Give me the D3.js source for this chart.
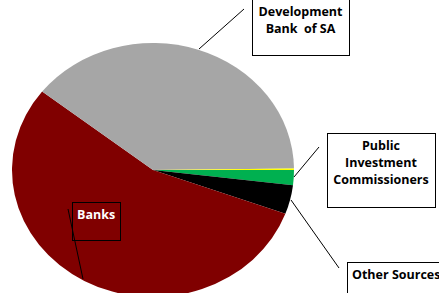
<!DOCTYPE html>
<html>
<head>
<meta charset="utf-8">
<script src="https://cdn.jsdelivr.net/npm/d3@7"></script>
<style>
  body { margin: 0; background: #fff; }
  text { font-family: "Open Sans", Lato, sans-serif; font-weight: bold; }
</style>
</head>
<body>
<svg id="pie"></svg>
<script>
var width = 439;
var height = 293;

// slice order clockwise from 3 o'clock
var sources = ["Public Investment Commissioners", "Other Sources", "Banks", "Development Bank of SA", "Other"];
var shares = [1.9, 3.7, 55.0, 39.2, 0.2];
var colors = ["#00b050", "#000000", "#800000", "#a6a6a6", "#ffff00"];

var cx = 153, cy = 170;
var rx = 141, ry = 127;

var svg = d3.select("#pie").attr("width", width).attr("height", height);

var data = sources.map(function (s, i) { return {name: s, value: shares[i], color: colors[i]}; });

var pie = d3.pie()
    .sort(null)
    .value(function (d) { return d.value; })
    .startAngle(Math.PI / 2)
    .endAngle(Math.PI / 2 + 2 * Math.PI);

var arc = d3.arc().innerRadius(0).outerRadius(rx);

var pieGroup = svg.append("g")
    .attr("transform", "translate(" + cx + "," + cy + ") scale(1," + (ry / rx) + ")");

pieGroup.selectAll("path")
    .data(pie(data))
    .enter()
    .append("path")
    .attr("d", arc)
    .attr("fill", function (d) { return d.data.color; });

// labels: box, text lines, leader line
var labels = [
    {lines: ["Development", "Bank  of SA"], box: [252, -1, 97, 56], fill: "#fff", color: "#000", lead: [199, 49, 244, 9]},
    {lines: ["Public", "Investment", "Commissioners"], box: [327, 133, 108, 74], fill: "#fff", color: "#000", lead: [294, 177, 319, 147]},
    {lines: ["Other Sources"], box: [347, 262, 100, 40], fill: "#fff", color: "#000", lead: [291, 200, 339, 268]},
    {lines: ["Banks"], box: [72, 202, 48, 38], fill: "none", color: "#fff", lead: [68, 209, 83, 279]}
];

labels.forEach(function (l) {
    svg.append("line")
        .attr("x1", l.lead[0]).attr("y1", l.lead[1])
        .attr("x2", l.lead[2]).attr("y2", l.lead[3])
        .attr("stroke", "#000").attr("stroke-width", 1);
    svg.append("rect")
        .attr("x", l.box[0] + 0.5).attr("y", l.box[1] + 0.5)
        .attr("width", l.box[2]).attr("height", l.box[3])
        .attr("fill", l.fill)
        .attr("stroke", "#000").attr("stroke-width", 1);
    var isLeft = l.lines[0] === "Banks" || l.lines[0] === "Other Sources";
    l.lines.forEach(function (t, i) {
        svg.append("text")
            .attr("x", isLeft ? l.box[0] + 5 : l.box[0] + l.box[2] / 2)
            .attr("y", l.box[1] + 17 + i * 17)
            .attr("text-anchor", isLeft ? "start" : "middle")
            .attr("font-size", 12.5)
            .attr("fill", l.color)
            .style("white-space", "pre")
            .text(t);
    });
});
</script>
</body>
</html>
